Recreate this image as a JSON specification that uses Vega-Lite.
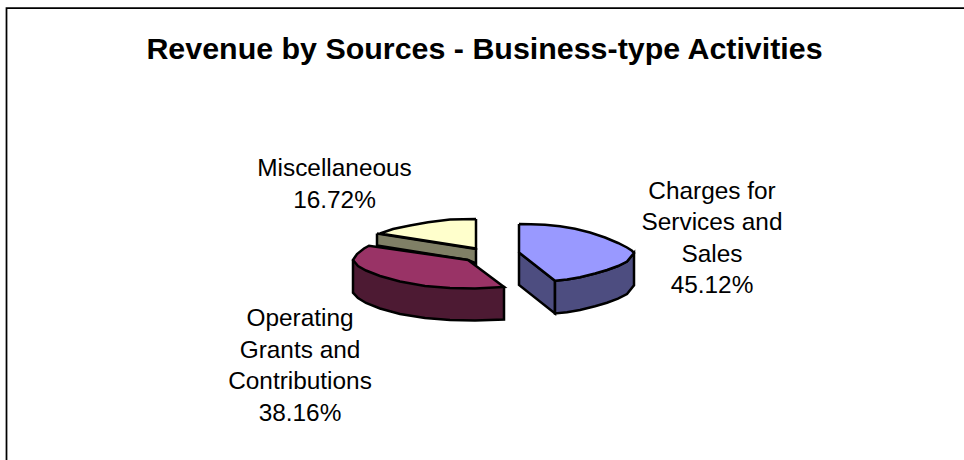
{"$schema":"https://vega.github.io/schema/vega-lite/v6.json","width":964,"height":460,"autosize":"none","padding":0,"background":"white","view":{"stroke":null},
"title":{"text":"Revenue by Sources - Business-type Activities","font":"Liberation Sans","fontSize":30.4,"fontWeight":"bold","color":"black","anchor":"middle","offset":-65,"dx":2.5},
"datasets":{"shapes":[
{"p":"a1side","i":1,"x":377,"y":233.5},{"p":"a1side","i":2,"x":476,"y":249},{"p":"a1side","i":3,"x":476,"y":263.5},{"p":"a1side","i":4,"x":468,"y":260},{"p":"a1side","i":5,"x":377,"y":245.5},{"p":"a1side","i":6,"x":377,"y":233.5},
{"p":"a2top","i":1,"x":476,"y":219},{"p":"a2top","i":2,"x":476,"y":248.5},{"p":"a2top","i":3,"x":380,"y":233.5},{"p":"a2top","i":4,"x":393,"y":229},{"p":"a2top","i":5,"x":410,"y":225.5},{"p":"a2top","i":6,"x":428,"y":222.3},{"p":"a2top","i":7,"x":450,"y":219.6},{"p":"a2top","i":8,"x":476,"y":219},
{"p":"b1side","i":1,"x":353,"y":260},{"p":"b1side","i":2,"x":353,"y":292.7},{"p":"b1side","i":3,"x":358,"y":298},{"p":"b1side","i":4,"x":366,"y":303},{"p":"b1side","i":5,"x":380,"y":308.5},{"p":"b1side","i":6,"x":400,"y":314},{"p":"b1side","i":7,"x":425,"y":318},{"p":"b1side","i":8,"x":450,"y":320},{"p":"b1side","i":9,"x":475,"y":320.5},{"p":"b1side","i":10,"x":504,"y":319.5},{"p":"b1side","i":11,"x":504,"y":287},{"p":"b1side","i":12,"x":353,"y":260},
{"p":"b2top","i":1,"x":468,"y":260},{"p":"b2top","i":2,"x":504,"y":287},{"p":"b2top","i":3,"x":475,"y":288.5},{"p":"b2top","i":4,"x":450,"y":288},{"p":"b2top","i":5,"x":425,"y":286},{"p":"b2top","i":6,"x":400,"y":281.5},{"p":"b2top","i":7,"x":380,"y":276},{"p":"b2top","i":8,"x":366,"y":270.5},{"p":"b2top","i":9,"x":358,"y":266},{"p":"b2top","i":10,"x":353,"y":260},{"p":"b2top","i":11,"x":357,"y":254},{"p":"b2top","i":12,"x":364,"y":248.5},{"p":"b2top","i":13,"x":369,"y":245.7},{"p":"b2top","i":14,"x":468,"y":260},
{"p":"c1inner","i":1,"x":519,"y":252.5},{"p":"c1inner","i":2,"x":555,"y":280.7},{"p":"c1inner","i":3,"x":555,"y":313.4},{"p":"c1inner","i":4,"x":519,"y":285},{"p":"c1inner","i":5,"x":519,"y":252.5},
{"p":"c2outer","i":1,"x":555,"y":280.7},{"p":"c2outer","i":2,"x":567,"y":279.5},{"p":"c2outer","i":3,"x":580,"y":277.3},{"p":"c2outer","i":4,"x":595,"y":273.5},{"p":"c2outer","i":5,"x":607,"y":270},{"p":"c2outer","i":6,"x":618,"y":266},{"p":"c2outer","i":7,"x":627,"y":261.5},{"p":"c2outer","i":8,"x":634,"y":253},{"p":"c2outer","i":9,"x":634,"y":285.3},{"p":"c2outer","i":10,"x":627,"y":294},{"p":"c2outer","i":11,"x":618,"y":298.7},{"p":"c2outer","i":12,"x":607,"y":302.7},{"p":"c2outer","i":13,"x":595,"y":306.2},{"p":"c2outer","i":14,"x":580,"y":310},{"p":"c2outer","i":15,"x":567,"y":312.2},{"p":"c2outer","i":16,"x":555,"y":313.4},{"p":"c2outer","i":17,"x":555,"y":280.7},
{"p":"c3top","i":1,"x":519,"y":224},{"p":"c3top","i":2,"x":531,"y":224.2},{"p":"c3top","i":3,"x":545,"y":224.8},{"p":"c3top","i":4,"x":560,"y":226.3},{"p":"c3top","i":5,"x":575,"y":228.8},{"p":"c3top","i":6,"x":590,"y":232.5},{"p":"c3top","i":7,"x":605,"y":237.5},{"p":"c3top","i":8,"x":618,"y":243},{"p":"c3top","i":9,"x":627,"y":247.5},{"p":"c3top","i":10,"x":632,"y":250.8},{"p":"c3top","i":11,"x":634,"y":253},{"p":"c3top","i":12,"x":627,"y":261.5},{"p":"c3top","i":13,"x":618,"y":266},{"p":"c3top","i":14,"x":607,"y":270},{"p":"c3top","i":15,"x":595,"y":273.5},{"p":"c3top","i":16,"x":580,"y":277.3},{"p":"c3top","i":17,"x":567,"y":279.5},{"p":"c3top","i":18,"x":555,"y":280.7},{"p":"c3top","i":19,"x":519,"y":252.5},{"p":"c3top","i":20,"x":519,"y":224}
],
"frame":[{"i":1,"x":6.5,"y":460},{"i":2,"x":6.5,"y":8},{"i":3,"x":964,"y":8}],
"labels":[
{"label":"Charges for\nServices and\nSales\n45.12%","x":712,"y":191.5},
{"label":"Operating\nGrants and\nContributions\n38.16%","x":300,"y":319},
{"label":"Miscellaneous\n16.72%","x":334.5,"y":169}
]},
"layer":[
{"data":{"name":"frame"},"mark":{"type":"line","stroke":"black","strokeWidth":1.75},"encoding":{"x":{"field":"x","type":"quantitative","scale":{"domain":[0,964]},"axis":null},"y":{"field":"y","type":"quantitative","scale":{"domain":[460,0]},"axis":null},"order":{"field":"i"}}},
{"data":{"name":"shapes"},"mark":{"type":"line","stroke":"black","strokeWidth":2.5,"strokeJoin":"miter"},"encoding":{"x":{"field":"x","type":"quantitative","scale":{"domain":[0,964]},"axis":null},"y":{"field":"y","type":"quantitative","scale":{"domain":[460,0]},"axis":null},"order":{"field":"i"},"detail":{"field":"p"},"fill":{"field":"p","type":"nominal","legend":null,"scale":{"domain":["a1side","a2top","b1side","b2top","c1inner","c2outer","c3top"],"range":["#808066","#FFFFCC","#4D1A33","#993366","#4D4D80","#4D4D80","#9999FF"]}}}},
{"data":{"name":"labels"},"mark":{"type":"text","font":"Liberation Sans","fontSize":24.4,"lineHeight":31.5,"align":"center","baseline":"middle","color":"black","lineBreak":"\n"},"encoding":{"x":{"field":"x","type":"quantitative","scale":{"domain":[0,964]},"axis":null},"y":{"field":"y","type":"quantitative","scale":{"domain":[460,0]},"axis":null},"text":{"field":"label"}}}
]}
